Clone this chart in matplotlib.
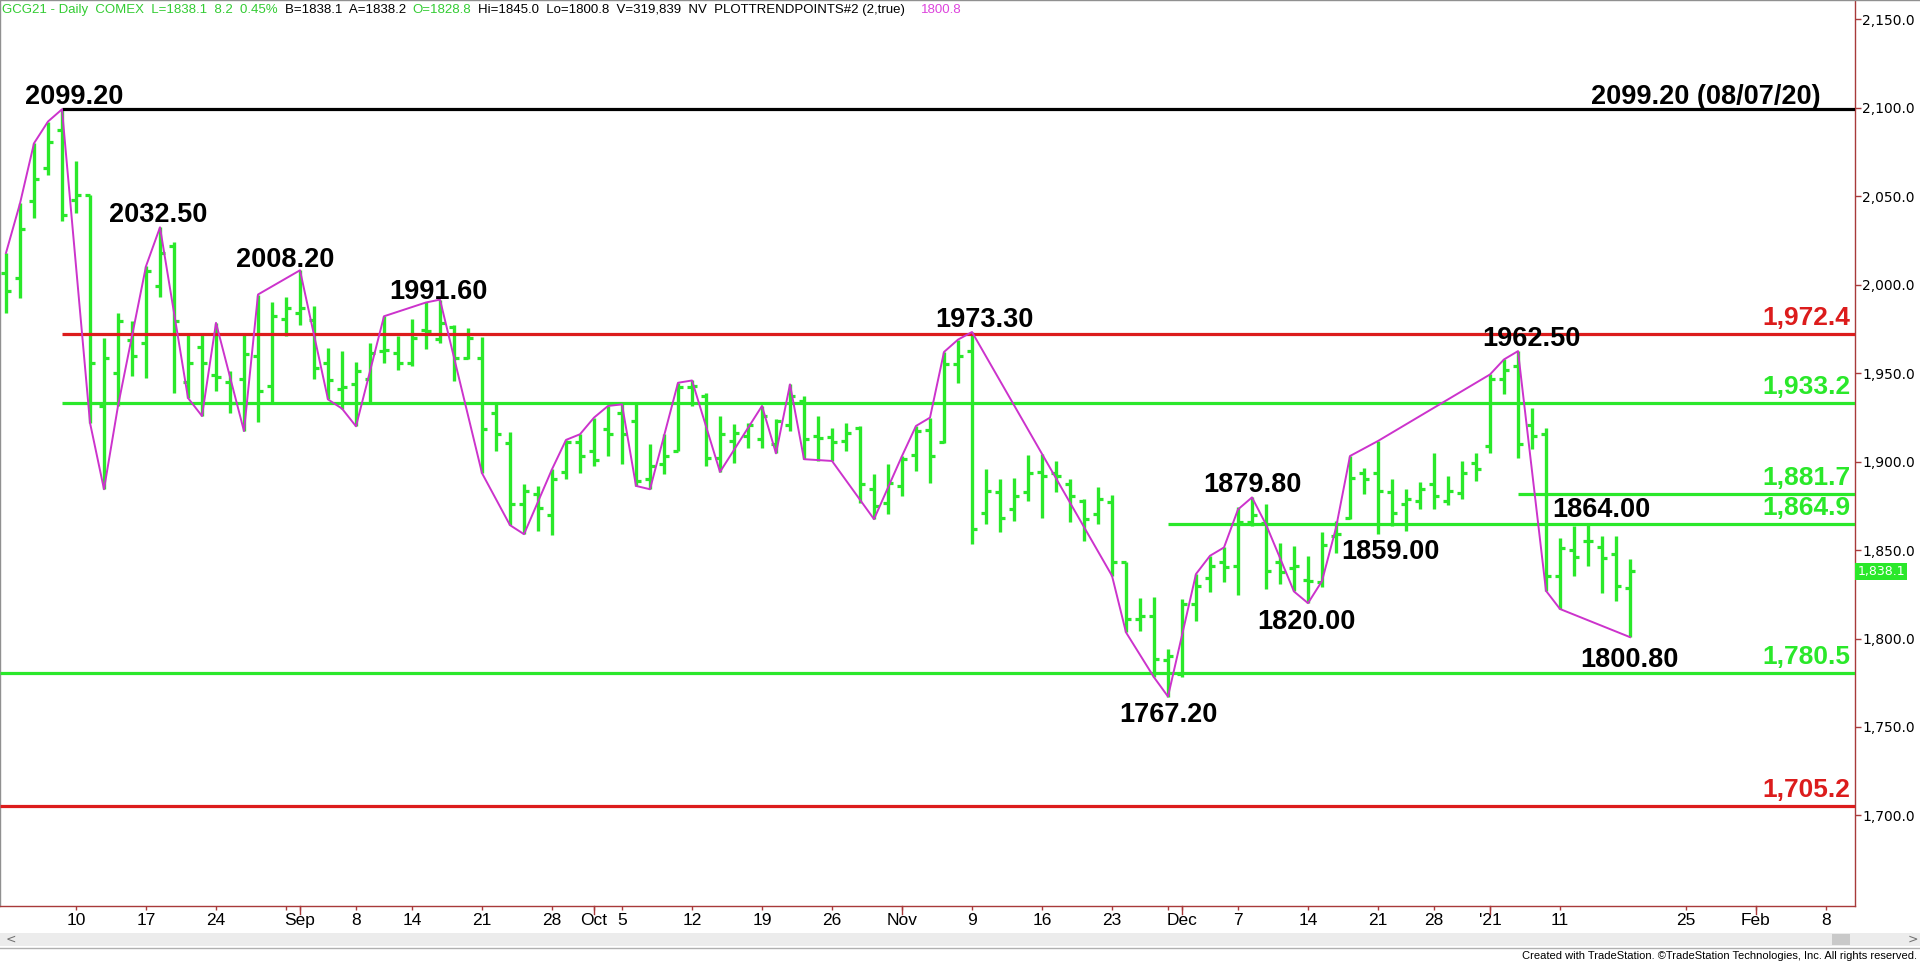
import numpy as np
import pandas as pd
import matplotlib
matplotlib.use('Agg')
import matplotlib.pyplot as plt
import matplotlib.transforms as mtransforms
from matplotlib.patches import Rectangle

# trading calendar (COMEX sessions, holidays skipped)
holidays = ['2020-09-07', '2020-11-26', '2020-12-25', '2021-01-01', '2021-01-18', '2021-02-15']
sessions = pd.bdate_range('2020-08-03', '2021-02-12', freq='C', holidays=holidays)

# daily OHLC, GCG21, Aug 3 2020 .. Jan 19 2021
bar_open = [2006.7, 2003.9, 2047.1, 2066.0, 2087.6, 2048.0, 2050.9, 1931.5, 1950.0, 1969.0,
            1967.2, 1999.5, 2022.0, 1945.0, 1965.0, 1949.0, 1945.0, 1946.5, 1960.0, 1942.7,
            1980.4, 1984.0, 1980.0, 1955.5, 1941.0, 1944.0, 1946.5, 1962.5, 1961.5, 1956.0,
            1974.7, 1969.5, 1976.0, 1958.7, 1958.7, 1927.3, 1910.7, 1876.0, 1881.6, 1870.0,
            1894.2, 1911.0, 1906.0, 1918.3, 1927.7, 1923.0, 1890.0, 1898.5, 1906.0, 1942.0,
            1937.0, 1902.0, 1911.7, 1914.5, 1912.6, 1910.0, 1921.0, 1934.3, 1914.5, 1914.0,
            1911.7, 1919.2, 1884.4, 1876.9, 1886.3, 1904.0, 1918.0, 1911.0, 1955.0, 1962.5,
            1871.2, 1882.9, 1873.1, 1882.9, 1894.0, 1893.8, 1887.2, 1877.8, 1870.3, 1877.0,
            1843.0, 1811.0, 1813.0, 1788.0, 1780.0, 1819.5, 1834.0, 1843.0, 1841.0, 1866.0,
            1865.6, 1843.0, 1840.0, 1833.0, 1831.7, 1858.0, 1868.4, 1893.8, 1893.8, 1883.0,
            1876.0, 1877.8, 1887.2, 1877.8, 1882.5, 1899.5, 1908.9, 1946.5, 1954.0, 1921.0,
            1915.5, 1835.5, 1850.0, 1855.0, 1851.5, 1847.7, 1828.8]
bar_high = [2018.0, 2046.0, 2080.0, 2092.3, 2099.2, 2069.7, 2051.0, 1970.0, 1984.0, 1979.4,
            2010.5, 2032.5, 2024.0, 1972.8, 1971.9, 1978.5, 1951.0, 1972.0, 1994.5, 1990.0,
            1993.2, 2008.2, 1988.0, 1964.4, 1962.5, 1956.3, 1967.0, 1982.2, 1971.0, 1980.4,
            1990.0, 1991.6, 1977.0, 1975.6, 1970.6, 1933.3, 1916.8, 1887.2, 1886.3, 1895.7,
            1912.3, 1915.5, 1924.9, 1931.5, 1932.4, 1932.4, 1909.8, 1915.5, 1944.6, 1945.9,
            1939.0, 1925.8, 1921.1, 1922.0, 1931.5, 1924.0, 1943.7, 1937.0, 1925.8, 1919.2,
            1922.0, 1920.2, 1892.9, 1898.5, 1903.2, 1920.2, 1924.9, 1962.0, 1969.0, 1973.3,
            1895.7, 1890.0, 1891.0, 1903.6, 1904.2, 1900.4, 1890.0, 1878.8, 1885.4, 1881.0,
            1843.0, 1822.7, 1823.6, 1794.1, 1822.3, 1836.5, 1846.8, 1851.5, 1874.1, 1879.8,
            1876.0, 1854.3, 1852.4, 1846.8, 1860.0, 1866.6, 1903.2, 1896.6, 1911.7, 1890.0,
            1884.4, 1888.6, 1905.0, 1891.9, 1900.4, 1905.0, 1949.3, 1957.8, 1962.5, 1930.5,
            1919.2, 1856.6, 1863.7, 1864.0, 1858.1, 1857.7, 1845.0]
bar_low = [1984.0, 1992.6, 2037.7, 2062.2, 2035.9, 2040.6, 1922.0, 1884.4, 1931.5, 1948.4,
           1947.4, 1993.2, 1939.0, 1936.0, 1925.8, 1940.0, 1927.7, 1917.3, 1922.4, 1933.3,
           1970.9, 1977.5, 1947.0, 1935.2, 1930.0, 1920.0, 1933.7, 1956.0, 1952.0, 1954.0,
           1963.8, 1967.2, 1945.6, 1957.8, 1893.5, 1906.0, 1864.1, 1859.0, 1861.0, 1858.5,
           1890.0, 1893.8, 1897.6, 1903.2, 1898.5, 1886.3, 1884.4, 1892.9, 1906.0, 1931.5,
           1897.6, 1894.2, 1899.5, 1907.9, 1907.9, 1904.7, 1917.4, 1901.4, 1900.4, 1900.4,
           1906.0, 1876.9, 1867.5, 1870.3, 1880.6, 1894.8, 1888.2, 1910.8, 1944.6, 1853.4,
           1864.7, 1860.0, 1866.6, 1877.8, 1867.9, 1882.9, 1866.0, 1855.3, 1864.7, 1835.5,
           1803.5, 1804.5, 1778.1, 1767.2, 1778.0, 1810.1, 1826.1, 1831.8, 1824.6, 1863.7,
           1828.0, 1830.8, 1827.0, 1820.0, 1829.0, 1848.3, 1867.5, 1881.6, 1859.0, 1863.7,
           1861.0, 1873.1, 1873.1, 1875.4, 1879.1, 1889.1, 1905.1, 1938.0, 1902.3, 1907.0,
           1827.0, 1816.7, 1835.5, 1841.2, 1825.7, 1821.4, 1800.8]
bar_close = [1996.7, 2031.5, 2059.7, 2081.0, 2039.2, 2050.9, 1956.0, 1958.4, 1979.8, 1959.7,
             2007.6, 2018.0, 1979.4, 1956.0, 1955.5, 1948.0, 1933.0, 1960.6, 1940.0, 1982.6,
             1987.0, 1987.0, 1953.0, 1946.0, 1942.0, 1951.0, 1961.5, 1963.0, 1956.0, 1970.0,
             1974.0, 1978.5, 1958.7, 1970.0, 1918.3, 1915.5, 1876.0, 1883.5, 1874.0, 1890.0,
             1911.0, 1903.2, 1901.0, 1915.5, 1915.5, 1889.0, 1897.5, 1903.2, 1942.0, 1943.0,
             1902.3, 1915.5, 1916.4, 1920.5, 1925.8, 1923.0, 1937.0, 1912.6, 1913.6, 1911.0,
             1916.4, 1887.2, 1875.0, 1888.2, 1901.4, 1917.3, 1903.2, 1955.0, 1960.0, 1861.9,
             1883.5, 1868.4, 1880.6, 1893.8, 1892.0, 1892.0, 1880.6, 1867.5, 1878.8, 1843.0,
             1811.0, 1813.0, 1788.5, 1790.0, 1819.5, 1829.9, 1841.0, 1840.2, 1866.0, 1870.0,
             1838.3, 1837.4, 1841.0, 1832.8, 1852.8, 1859.0, 1891.0, 1890.0, 1883.5, 1871.0,
             1879.0, 1884.4, 1880.6, 1883.5, 1893.8, 1895.7, 1946.9, 1952.0, 1909.8, 1914.5,
             1835.5, 1851.0, 1846.0, 1855.3, 1845.8, 1829.9, 1838.1]

# quote line values not derivable from bars
bid_px = 1838.1
ask_px = 1838.2
volume = 319839

# trend-points swing line (bar number, price)
trend_bar = [0, 1, 2, 3, 4, 6, 7, 8, 10, 11, 13, 14, 15, 17, 18, 21, 23, 24, 25, 27,
             30, 31, 34, 36, 37, 39, 40, 41, 42, 43, 44, 45, 46, 48, 49, 51, 54, 55, 56, 57,
             59, 62, 64, 65, 66, 67, 68, 69, 79, 80, 82, 83, 85, 86, 87, 88, 89, 90, 92, 93,
             94, 95, 96, 98, 106, 107, 108, 110, 111, 116]
trend_price = [2018.0, 2046.0, 2080.0, 2092.3, 2099.2, 1922.0, 1884.4, 1931.5, 2010.5, 2032.5,
               1936.0, 1925.8, 1978.5, 1917.3, 1994.5, 2008.2, 1935.2, 1930.0, 1920.0, 1982.2,
               1990.0, 1991.6, 1893.5, 1864.1, 1859.0, 1895.7, 1912.3, 1915.5, 1924.9, 1931.5,
               1932.4, 1886.3, 1884.4, 1944.6, 1945.9, 1894.2, 1931.5, 1904.7, 1943.7, 1901.4,
               1900.4, 1867.5, 1903.2, 1920.2, 1924.9, 1962.0, 1969.0, 1973.3, 1835.5, 1803.5,
               1778.1, 1767.2, 1836.5, 1846.8, 1851.5, 1873.0, 1879.8, 1864.5, 1826.6, 1820.0,
               1832.5, 1862.6, 1903.2, 1911.7, 1949.3, 1957.8, 1962.5, 1827.0, 1816.7, 1800.8]

# labelled swing highs / lows
swing_bar = [4, 11, 21, 31, 69, 108, 89, 113, 83, 93, 98, 116]
swing_price = [2099.2, 2032.5, 2008.2, 1991.6, 1973.3, 1962.5, 1879.8, 1864.0,
               1767.2, 1820.0, 1859.0, 1800.8]
swing_side = ['H', 'H', 'H', 'H', 'H', 'H', 'H', 'H', 'L', 'L', 'L', 'L']

# horizontal levels and the bar each one starts from (None = whole chart)
level_price = [2099.2, 1972.4, 1933.2, 1881.7, 1864.9, 1780.5, 1705.2]
level_from = [4, 4, 4, 108, 83, None, None]
level_kind = ['top', 'res', 'sup', 'sup', 'sup', 'sup', 'res']

# date axis
tick_dates = ['2020-08-10', '2020-08-17', '2020-08-24', '2020-09-01', '2020-09-08', '2020-09-14',
              '2020-09-21', '2020-09-28', '2020-10-01', '2020-10-05', '2020-10-12', '2020-10-19',
              '2020-10-26', '2020-11-02', '2020-11-09', '2020-11-16', '2020-11-23', '2020-12-01',
              '2020-12-07', '2020-12-14', '2020-12-21', '2020-12-28', '2021-01-04', '2021-01-11',
              '2021-01-25', '2021-02-01', '2021-02-08']
tick_labels = ['10', '17', '24', 'Sep', '8', '14', '21', '28', 'Oct', '5', '12', '19', '26',
               'Nov', '9', '16', '23', 'Dec', '7', '14', '21', '28', "'21", '11', '25', 'Feb', '8']
blank_tick_dates = ['2020-08-31', '2020-11-30']

# ---- styles ----
GREEN = '#2ae82a'
RED = '#dc1c1c'
MAGENTA = '#cc33cc'
AXRED = '#a83a3a'
BOLD = 'Liberation Sans'
PLAIN = 'Liberation Sans'

W, H = 1920, 963
fig = plt.figure(figsize=(W / 100, H / 100), dpi=100)
fig.patch.set_facecolor('white')

# pixel geometry of the TradeStation pane
x0_px, step_px = 6.0, 14.0
right_px, bottom_px = 1855.0, 906.0
ax = fig.add_axes([0, (H - bottom_px) / H, right_px / W, bottom_px / H])
ax.set_facecolor('white')

def sess(d):
    return sessions.get_loc(pd.Timestamp(d))

n = len(bar_close)
idx = np.arange(n)
o = np.array(bar_open); hi = np.array(bar_high); lo = np.array(bar_low); c = np.array(bar_close)

# OHLC bars
ax.vlines(idx, lo, hi, color=GREEN, lw=2.4, zorder=3, capstyle='butt')
ax.hlines(o, idx - 0.38, idx, color=GREEN, lw=2.3, zorder=3)
ax.hlines(c, idx, idx + 0.38, color=GREEN, lw=2.3, zorder=3)

xmin = -x0_px / step_px
xmax = (right_px - x0_px) / step_px
ax.set_xlim(xmin, xmax)
ax.set_ylim(1648.8, 2161.0)

# levels
kind_color = {'top': 'black', 'res': RED, 'sup': GREEN}
lab_x = (1850 - x0_px) / step_px
for p, f, k in zip(level_price, level_from, level_kind):
    start = xmin if f is None else f
    ax.hlines(p, start, xmax, color=kind_color[k], lw=2.3, zorder=4)
    if k == 'top':
        ax.annotate(f'{p:.2f} ({sessions[level_from[0]]:%m/%d/%y})', xy=((1821 - x0_px) / step_px, p),
                    xytext=(0, 3.6), textcoords='offset points', ha='right', va='baseline',
                    fontsize=19.5, fontweight='bold', family=BOLD, color='black', zorder=6)
    else:
        ax.annotate(f'{p:,.1f}', xy=(lab_x, p), xytext=(0, 6.5), textcoords='offset points',
                    ha='right', va='baseline', fontsize=19, fontweight='bold', family=BOLD,
                    color=kind_color[k], zorder=6)

# swing line
ax.plot(trend_bar, trend_price, color=MAGENTA, lw=1.4, zorder=5)

# swing labels, offsets in pixels
label_dx = [12, -2, -15, -2, 12, 13, 0, 13, 0, -2, 12, -1]
label_gap = [5, 5, 3, 1, 5, 5, 5, 8, 5, 6, 5, 10]
for b, p, s, dx, g in zip(swing_bar, swing_price, swing_side, label_dx, label_gap):
    if s == 'H':
        ax.annotate(f'{p:.2f}', xy=(b, p), xytext=(dx * 0.72, g * 0.72), textcoords='offset points',
                    ha='center', va='baseline', fontsize=19.5, fontweight='bold', family=BOLD, zorder=6)
    else:
        ax.annotate(f'{p:.2f}', xy=(b, p), xytext=(dx * 0.72, -g * 0.72), textcoords='offset points',
                    ha='center', va='top', fontsize=19.5, fontweight='bold', family=BOLD, zorder=6)

# price axis on the right
ax.yaxis.tick_right()
ax.set_yticks(np.arange(1700, 2151, 50))
ax.yaxis.set_major_formatter(matplotlib.ticker.FuncFormatter(lambda v, _: f'{v:,.1f}'))
ax.tick_params(axis='y', direction='out', length=4, width=1, color=AXRED, pad=1,
               labelsize=10, labelcolor='black')
for t in ax.get_yticklabels():
    t.set_family('DejaVu Sans')

# date axis
tpos = [sess(d) for d in tick_dates]
ax.set_xticks(tpos)
ax.set_xticklabels(tick_labels)
month_pos = [sess(d) for d, l in zip(tick_dates, tick_labels) if not l[-1].isdigit() or l == "'21"]
ax.set_xticks([sess(d) for d in blank_tick_dates], minor=True)
ax.tick_params(axis='x', which='major', direction='out', length=3, width=1, color=AXRED,
               pad=2, labelsize=12.5)
ax.tick_params(axis='x', which='minor', direction='out', length=3, width=1, color=AXRED)
for t in ax.get_xticklabels():
    t.set_family(PLAIN)
# longer month ticks
bt = mtransforms.blended_transform_factory(ax.transData, ax.transAxes)
for mp in month_pos:
    ax.plot([mp, mp], [0, -8 / bottom_px], transform=bt, color=AXRED, lw=1, clip_on=False)

ax.spines['top'].set_visible(False)
ax.spines['left'].set_color('#909090')
ax.spines['right'].set_color(AXRED)
ax.spines['bottom'].set_color(AXRED)
for side in ['left', 'right', 'bottom']:
    ax.spines[side].set_linewidth(1)

# last price tag
tr = mtransforms.blended_transform_factory(ax.transAxes, ax.transData)
ax.text(1.0012, c[-1], f'{c[-1]:,.1f}', transform=tr, ha='left', va='center', fontsize=9,
        color='white', family='DejaVu Sans', clip_on=False, zorder=7,
        bbox=dict(boxstyle='square,pad=0.15', fc=GREEN, ec='none'))

# header line, pieces placed one after another
chg = c[-1] - c[-2]
pct = chg / c[-2] * 100
hdr = [(f'GCG21 - Daily  COMEX  L={c[-1]:.1f}  {chg:.1f}  {pct:.2f}%', '#33cc33'),
       (f'B={bid_px:.1f}  A={ask_px:.1f}', 'black'),
       (f'O={o[-1]:.1f}', '#33cc33'),
       (f'Hi={hi[-1]:.1f}  Lo={lo[-1]:.1f}  V={volume:,}  NV  PLOTTRENDPOINTS#2 (2,true)', 'black'),
       (f'{lo[-1]:.1f}', '#dd44dd')]
renderer = fig.canvas.get_renderer()
xp = 2.0
for k, (txt, col) in enumerate(hdr):
    t = fig.text(xp / W, 1 - 10 / H, txt, ha='left', va='center', fontsize=9.5, color=col, family=PLAIN)
    bb = t.get_window_extent(renderer=renderer)
    xp = bb.x1 + (16 if k == 3 else 7)

# window frame and scrollbar
fig.add_artist(Rectangle((0, 1 - 946 / H), 1, 13 / H, transform=fig.transFigure, fc='#ececec', ec='none'))
fig.add_artist(Rectangle((1832 / W, 1 - 945 / H), 18 / W, 11 / H, transform=fig.transFigure,
                         fc='#c9c9c9', ec='none'))
fig.add_artist(plt.Line2D([0, 1], [1 - 948 / H, 1 - 948 / H], transform=fig.transFigure, color='#b0b0b0', lw=1))
fig.add_artist(plt.Line2D([0, 1], [1 - 0.5 / H, 1 - 0.5 / H], transform=fig.transFigure, color='#909090', lw=1))
fig.text(6 / W, 1 - 939.5 / H, '<', fontsize=9, color='#707070', va='center', family='DejaVu Sans')
fig.text(1908 / W, 1 - 939.5 / H, '>', fontsize=9, color='#707070', va='center', family='DejaVu Sans')
fig.text(1917 / W, 1 - 956 / H, 'Created with TradeStation. \u00a9TradeStation Technologies, Inc. All rights reserved.',
         ha='right', va='center', fontsize=8, color='black', family=PLAIN)

fig.savefig('out.png', dpi=100)
